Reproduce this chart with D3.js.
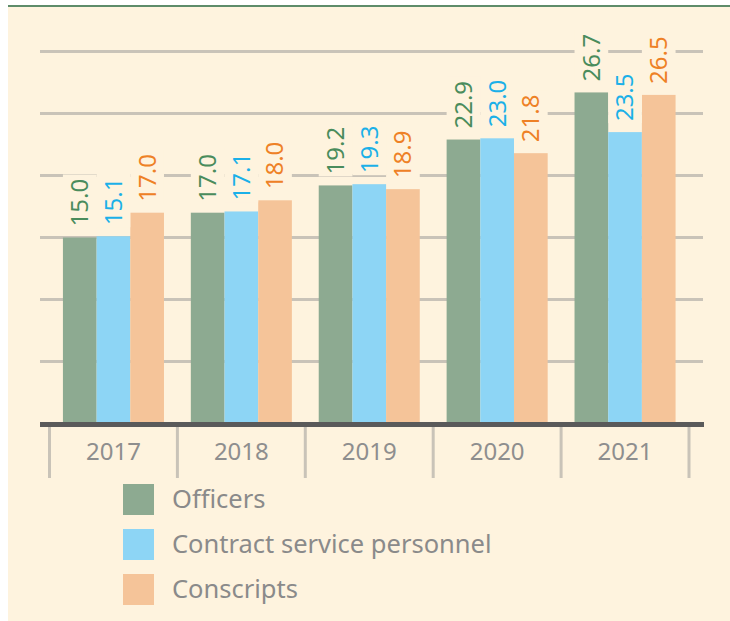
<!DOCTYPE html>
<html>
<head>
<meta charset="utf-8">
<script src="https://cdn.jsdelivr.net/npm/d3@7"></script>
<style>
  html, body { margin: 0; padding: 0; background: #fff; }
  svg { display: block; font-family: "Noto Sans", "Open Sans", sans-serif; }
</style>
</head>
<body>
<svg id="chart"></svg>
<script>
(function () {
    'use strict';

    const width = 730;
    const height = 621;

    // data
    const years = ['2017', '2018', '2019', '2020', '2021'];
    const seriesNames = ['Officers', 'Contract service personnel', 'Conscripts'];
    const officers = [15.0, 17.0, 19.2, 22.9, 26.7];
    const contract = [15.1, 17.1, 19.3, 23.0, 23.5];
    const conscripts = [17.0, 18.0, 18.9, 21.8, 26.5];
    const gridTicks = [5, 10, 15, 20, 25, 30];

    const barColors = ['#8DAA91', '#8DD5F5', '#F5C499'];
    const labelColors = ['#4A8C5C', '#1BB0E8', '#EE8126'];
    const bg = '#FEF3DE';
    const gridColor = '#C9C3B8';

    const seriesValues = [officers, contract, conscripts];
    const rows = years.map((y, i) => ({
        year: y,
        values: seriesValues.map((s, k) => ({ key: k, value: s[i] }))
    }));

    const svg = d3.select('#chart')
        .attr('width', width)
        .attr('height', height)
        .attr('viewBox', [0, 0, width, height]);

    // panel
    svg.append('rect')
        .attr('x', 8).attr('y', 6)
        .attr('width', width - 8).attr('height', height - 6)
        .attr('fill', bg);
    svg.append('line')
        .attr('x1', 8).attr('x2', width)
        .attr('y1', 6).attr('y2', 6)
        .attr('stroke', '#5E8C6A').attr('stroke-width', 2);

    const x = d3.scaleBand()
        .domain(years)
        .range([49.5, 689])
        .paddingInner(0.21)
        .paddingOuter(0.105);

    const xs = d3.scaleBand()
        .domain(d3.range(seriesNames.length))
        .range([0, x.bandwidth()]);

    const y = d3.scaleLinear()
        .domain([0, 30])
        .range([423.5, 51.5]);

    // gridlines
    svg.append('g').classed('grid', true)
        .selectAll('line')
        .data(gridTicks)
        .join('line')
        .attr('x1', 40).attr('x2', 703)
        .attr('y1', d => y(d)).attr('y2', d => y(d))
        .attr('stroke', gridColor).attr('stroke-width', 3);

    // bars
    const groups = svg.append('g').classed('bars', true)
        .selectAll('g')
        .data(rows)
        .join('g')
        .attr('transform', d => `translate(${x(d.year)},0)`);

    groups.selectAll('rect')
        .data(d => d.values)
        .join('rect')
        .attr('x', d => xs(d.key))
        .attr('width', xs.bandwidth())
        .attr('y', d => y(d.value))
        .attr('height', d => y(0) - y(d.value))
        .attr('fill', d => barColors[d.key]);

    // value labels, rotated, with a panel-coloured backing that cuts the gridlines
    const labelSize = 24;
    const labels = groups.selectAll('g.lab')
        .data(d => d.values)
        .join('g')
        .classed('lab', true)
        .attr('transform', d => `translate(${xs(d.key) + xs.bandwidth() / 2},${y(d.value) - 11})`);

    labels.append('rect')
        .attr('x', -xs.bandwidth() / 2)
        .attr('width', xs.bandwidth())
        .attr('y', -52)
        .attr('height', 54)
        .attr('fill', bg);

    labels.append('text')
        .attr('transform', 'rotate(-90)')
        .attr('dy', '0.35em')
        .attr('text-anchor', 'start')
        .attr('font-size', labelSize)
        .attr('fill', d => labelColors[d.key])
        .text(d => d.value.toFixed(1));

    // axis line
    svg.append('rect')
        .attr('x', 40).attr('y', y(0) - 1.5)
        .attr('width', 664).attr('height', 5)
        .attr('fill', '#5A5A5A');

    // separators between categories
    const step = x.step();
    const edges = years.map(d => x(d) - step * x.paddingInner() / 2)
        .concat([x(years[years.length - 1]) + x.bandwidth() + step * x.paddingInner() / 2]);
    svg.append('g').classed('seps', true)
        .selectAll('line')
        .data(edges)
        .join('line')
        .attr('x1', d => d).attr('x2', d => d)
        .attr('y1', y(0) + 3.5).attr('y2', 478)
        .attr('stroke', gridColor).attr('stroke-width', 3);

    svg.append('g').classed('years', true)
        .selectAll('text')
        .data(years)
        .join('text')
        .attr('x', d => x(d) + x.bandwidth() / 2)
        .attr('y', 460)
        .attr('text-anchor', 'middle')
        .attr('font-size', 24)
        .attr('fill', '#8E8E8E')
        .text(d => d);

    // legend
    const legend = svg.append('g').classed('legend', true)
        .selectAll('g')
        .data(seriesNames)
        .join('g')
        .attr('transform', (d, i) => `translate(123,${484 + i * 45})`);

    legend.append('rect')
        .attr('width', 31).attr('height', 31)
        .attr('fill', (d, i) => barColors[i]);

    legend.append('text')
        .attr('x', 49)
        .attr('y', 15.5)
        .attr('dy', '0.35em')
        .attr('font-size', 25.5)
        .attr('fill', '#8A8A8A')
        .text(d => d);
})();
</script>
</body>
</html>
